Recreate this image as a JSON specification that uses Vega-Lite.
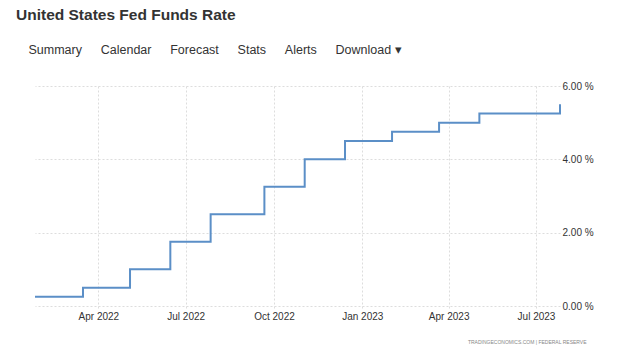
{
  "$schema": "https://vega.github.io/schema/vega-lite/v6.json",
  "width": 525,
  "height": 220,
  "autosize": {"type": "none"},
  "padding": {"left": 35, "top": 86, "right": 80, "bottom": 55},
  "background": "white",
  "title": {
    "text": "United States Fed Funds Rate",
    "subtitle": "\u200b\u2003Summary\u2003\u2002Calendar\u2003\u2002Forecast\u2003\u2002Stats\u2003\u2002Alerts\u2003\u2002Download \u25BE",
    "anchor": "start",
    "frame": "group",
    "dx": -19,
    "font": "Liberation Sans",
    "fontSize": 15.5,
    "fontWeight": "bold",
    "color": "#333333",
    "subtitleFont": "Liberation Sans",
    "subtitleFontSize": 12.5,
    "subtitleColor": "#333333",
    "subtitlePadding": 20,
    "offset": 25
  },
  "data": {
    "values": [
      {"date": "2022-01-25", "rate": 0.25},
      {"date": "2022-03-16", "rate": 0.5},
      {"date": "2022-05-04", "rate": 1.0},
      {"date": "2022-06-15", "rate": 1.75},
      {"date": "2022-07-27", "rate": 2.5},
      {"date": "2022-09-21", "rate": 3.25},
      {"date": "2022-11-02", "rate": 4.0},
      {"date": "2022-12-14", "rate": 4.5},
      {"date": "2023-02-01", "rate": 4.75},
      {"date": "2023-03-22", "rate": 5.0},
      {"date": "2023-05-03", "rate": 5.25},
      {"date": "2023-07-26", "rate": 5.5}
    ]
  },
  "mark": {"type": "line", "interpolate": "step-after", "color": "#5b8fc7", "strokeWidth": 2},
  "encoding": {
    "x": {
      "field": "date",
      "type": "temporal",
      "scale": {"type": "utc", "domain": [{"year": 2022, "month": 1, "date": 25, "utc": true}, {"year": 2023, "month": 7, "date": 26, "utc": true}], "nice": false},
      "axis": {
        "values": [
          {"year": 2022, "month": 4, "date": 1, "utc": true},
          {"year": 2022, "month": 7, "date": 1, "utc": true},
          {"year": 2022, "month": 10, "date": 1, "utc": true},
          {"year": 2023, "month": 1, "date": 1, "utc": true},
          {"year": 2023, "month": 4, "date": 1, "utc": true},
          {"year": 2023, "month": 7, "date": 1, "utc": true}
        ],
        "labelExpr": "utcFormat(datum.value, '%b %Y')",
        "title": "TRADINGECONOMICS.COM  |  FEDERAL RESERVE",
        "titleFont": "Liberation Sans",
        "titleFontSize": 5,
        "titleFontWeight": "normal",
        "titleColor": "#888888",
        "titleX": 551,
        "titleAlign": "right",
        "titleAnchor": null,
        "titlePadding": 18,
        "labelFont": "Liberation Sans",
        "labelFontSize": 10,
        "labelColor": "#333333",
        "labelPadding": 1,
        "labelFlush": false,
        "labelOverlap": false,
        "domain": false,
        "ticks": true,
        "tickSize": 4,
        "tickColor": "#dddddd",
        "tickDash": [2, 2],
        "grid": true,
        "gridColor": "#dddddd",
        "gridDash": [2, 2]
      }
    },
    "y": {
      "field": "rate",
      "type": "quantitative",
      "scale": {"domain": [0, 6], "nice": false},
      "axis": {
        "orient": "right",
        "values": [0, 2, 4, 6],
        "labelExpr": "format(datum.value, '.2f') + ' %'",
        "title": null,
        "labelFont": "Liberation Sans",
        "labelFontSize": 10,
        "labelColor": "#333333",
        "labelPadding": 2,
        "domain": false,
        "ticks": false,
        "grid": true,
        "gridColor": "#dddddd",
        "gridDash": [2, 2]
      }
    }
  },
  "config": {
    "view": {"stroke": null}
  }
}
